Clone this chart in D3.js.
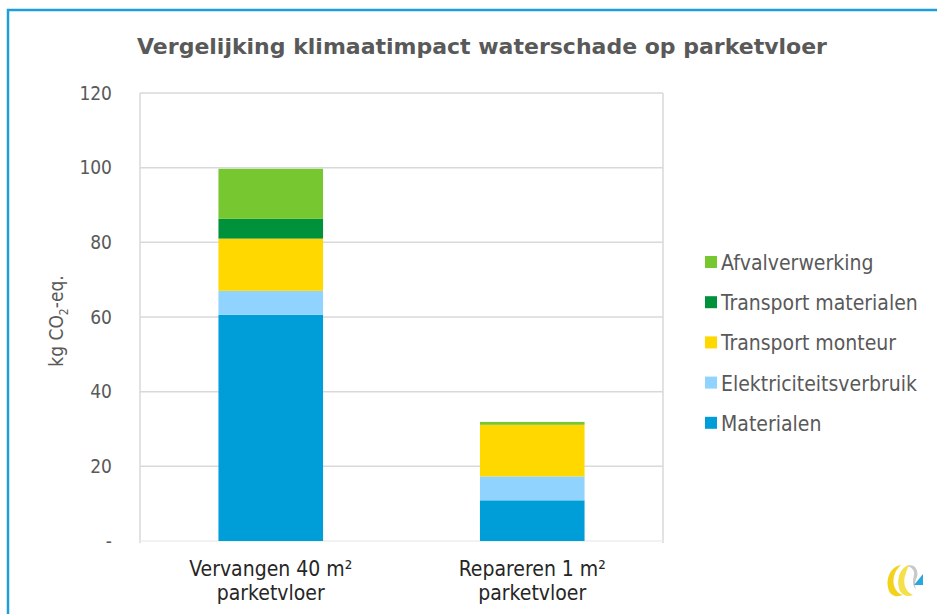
<!DOCTYPE html>
<html lang="nl">
<head>
<meta charset="utf-8">
<script src="https://cdn.jsdelivr.net/npm/d3@7/dist/d3.min.js"></script>
<style>
  html, body { margin: 0; padding: 0; background: #ffffff; }
  #grafiek { width: 937px; height: 614px; }
  text { font-family: "DejaVu Sans Condensed", "DejaVu Sans", sans-serif; }
</style>
</head>
<body>
<div id="grafiek"></div>
<script>
// gegevens (kg CO2-eq.)
const categorieen = ["Vervangen 40 m²|parketvloer", "Repareren 1 m²|parketvloer"];
const reeksen = ["Materialen", "Elektriciteitsverbruik", "Transport monteur", "Transport materialen", "Afvalverwerking"];
const materialen = [60.6, 10.9];
const elektriciteitsverbruik = [6.4, 6.4];
const transportMonteur = [14.0, 13.9];
const transportMaterialen = [5.3, 0.1];
const afvalverwerking = [13.4, 0.6];
const yTicks = [0, 20, 40, 60, 80, 100, 120];
const kleuren = ["#009ed9", "#8fd3fe", "#ffd800", "#00923a", "#76c730"];

const waardenPerReeks = [materialen, elektriciteitsverbruik, transportMonteur, transportMaterialen, afvalverwerking];
const tabel = categorieen.map((c, i) => {
    const rij = { categorie: c };
    reeksen.forEach((r, j) => { rij[r] = waardenPerReeks[j][i]; });
    return rij;
});

const svg = d3.select("#grafiek")
    .append("svg")
    .attr("width", 937)
    .attr("height", 614);

// blauwe kader rond de grafiek
svg.append("rect")
    .attr("x", 8).attr("y", 10)
    .attr("width", 960).attr("height", 640)
    .attr("fill", "none")
    .attr("stroke", "#1a9fd9")
    .attr("stroke-width", 2.5);

svg.append("text")
    .attr("x", 482).attr("y", 54)
    .attr("text-anchor", "middle")
    .style("font-family", "'DejaVu Sans', sans-serif")
    .style("font-size", "22px")
    .style("font-weight", "bold")
    .style("fill", "#595959")
    .text("Vergelijking klimaatimpact waterschade op parketvloer");

const plot = { left: 140, right: 663, top: 93, bottom: 541 };

const x = d3.scaleBand()
    .domain(categorieen)
    .range([plot.left, plot.right])
    .paddingInner(0.6)
    .paddingOuter(0.3);

const y = d3.scaleLinear()
    .domain([0, 120])
    .range([plot.bottom, plot.top]);

// rasterlijnen
svg.append("g")
    .selectAll("line")
    .data(yTicks.filter(t => t > 0))
    .enter()
    .append("line")
    .attr("x1", plot.left).attr("x2", plot.right)
    .attr("y1", d => y(d)).attr("y2", d => y(d))
    .attr("stroke", "#d9d9d9")
    .attr("stroke-width", 1.5);

// randen van het plotvlak
svg.append("line")
    .attr("x1", plot.left).attr("x2", plot.left)
    .attr("y1", plot.top).attr("y2", plot.bottom + 2)
    .attr("stroke", "#d9d9d9").attr("stroke-width", 1.5);
svg.append("line")
    .attr("x1", plot.right).attr("x2", plot.right)
    .attr("y1", plot.top).attr("y2", plot.bottom + 2)
    .attr("stroke", "#d9d9d9").attr("stroke-width", 1.5);
svg.append("line")
    .attr("x1", plot.left).attr("x2", plot.right)
    .attr("y1", plot.bottom).attr("y2", plot.bottom)
    .attr("stroke", "#eeeeee").attr("stroke-width", 1.5);

// gestapelde staven
const stapel = d3.stack().keys(reeksen)(tabel);

svg.append("g")
    .selectAll("g")
    .data(stapel)
    .enter()
    .append("g")
    .attr("fill", (d, i) => kleuren[i])
    .selectAll("rect")
    .data(d => d)
    .enter()
    .append("rect")
    .attr("x", d => x(d.data.categorie))
    .attr("width", x.bandwidth())
    .attr("y", d => y(d[1]))
    .attr("height", d => y(d[0]) - y(d[1]));

// y-as labels
const yAs = svg.append("g")
    .attr("transform", `translate(${plot.left},0)`)
    .call(d3.axisLeft(y).tickValues(yTicks).tickSize(0).tickPadding(28)
        .tickFormat(d => d === 0 ? "-" : d));
yAs.select(".domain").remove();
yAs.selectAll("text")
    .style("font-size", "19px")
    .style("fill", "#595959")
    .style("font-family", "'DejaVu Sans Condensed', 'DejaVu Sans', sans-serif");

const yTitel = svg.append("text")
    .attr("transform", "translate(63,321) rotate(-90)")
    .attr("text-anchor", "middle")
    .style("font-size", "19px")
    .style("fill", "#595959");
yTitel.append("tspan").text("kg CO");
yTitel.append("tspan").attr("dy", 5).style("font-size", "12px").text("2");
yTitel.append("tspan").attr("dy", -5).text("-eq.");

// x-as labels (twee regels)
const xLabels = svg.append("g")
    .selectAll("text")
    .data(categorieen)
    .enter()
    .append("text")
    .attr("x", d => x(d) + x.bandwidth() / 2)
    .attr("y", 576)
    .attr("text-anchor", "middle")
    .style("font-size", "21px")
    .style("fill", "#262626");
xLabels.selectAll("tspan")
    .data(d => d.split("|"))
    .enter()
    .append("tspan")
    .attr("x", function () { return d3.select(this.parentNode).attr("x"); })
    .attr("dy", (d, i) => i === 0 ? 0 : 24)
    .text(d => d);

// legenda (bovenste reeks eerst)
const legenda = svg.append("g")
    .selectAll("g")
    .data(reeksen.map((r, i) => ({ naam: r, kleur: kleuren[i] })).reverse())
    .enter()
    .append("g")
    .attr("transform", (d, i) => `translate(705,${262 + i * 40.2})`);
legenda.append("rect")
    .attr("x", 0).attr("y", -6)
    .attr("width", 12).attr("height", 12)
    .attr("fill", d => d.kleur);
legenda.append("text")
    .attr("x", 16).attr("y", 8)
    .style("font-size", "21px")
    .style("fill", "#595959")
    .text(d => d.naam);

// logo rechtsonder
const logo = svg.append("g").attr("transform", "translate(885,563)");
logo.append("path")
    .attr("d", "M16,2 C4,4 0,18 4,28 C7,34 13,34 18,32 C10,30 6,20 10,10 C12,6 14,4 16,2 Z")
    .attr("fill", "#f2d21b");
logo.append("path")
    .attr("d", "M25,2 C14,4 11,18 15,28 C18,33 23,34 28,32 C20,29 17,19 21,10 C22,6 23,4 25,2 Z")
    .attr("fill", "#f5e04a");
logo.append("path")
    .attr("d", "M22,3 C30,0 34,8 32,14 C30,18 29,22 31,26 C27,23 28,16 29,12 C30,8 27,4 22,3 Z")
    .attr("fill", "#c8c8c8");
logo.append("path")
    .attr("d", "M38,11 L38,22 L29,22 Z")
    .attr("fill", "#2aa7df");
</script>
</body>
</html>
